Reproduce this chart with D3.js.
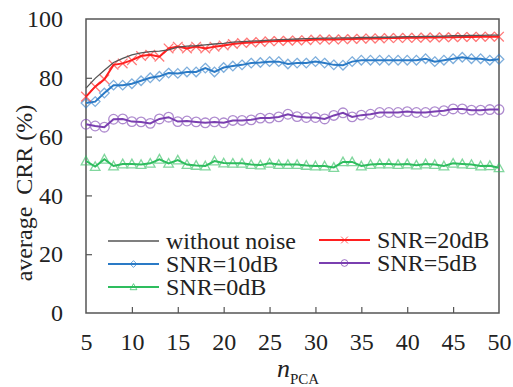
<!DOCTYPE html>
<html lang="en">
<head>
<meta charset="UTF-8">
<title>average CRR vs nPCA</title>
<script src="https://cdn.jsdelivr.net/npm/d3@7"></script>
<style>
  body { margin: 0; background: #fff; }
  svg text { fill: #222; }
  .frame { fill: none; stroke: #555; stroke-width: 1.5px; }
  .tick line { stroke: #555; stroke-width: 1.2px; }
</style>
</head>
<body>
<script>
// n_PCA values 5..50
const nPca = [5,6,7,8,9,10,11,12,13,14,15,16,17,18,19,20,21,22,23,24,25,26,27,28,29,30,
  31,32,33,34,35,36,37,38,39,40,41,42,43,44,45,46,47,48,49,50];

const noNoise = [76.5,79.8,82.6,85.2,86.6,87.8,88.5,88.9,89.1,89.5,90.4,90.8,90.9,91.2,91.5,91.7,
  92.1,92.3,92.5,92.6,92.8,93.0,93.1,93.2,93.3,93.4,93.5,93.5,93.6,93.6,93.7,93.7,93.8,93.8,93.9,
  94.0,94.0,94.1,94.1,94.2,94.3,94.3,94.4,94.4,94.5,94.5];
const snr20 = [73.6,77.0,79.5,84.4,84.9,86.0,87.4,87.8,87.2,90.0,90.6,90.0,90.6,90.0,90.6,91.0,
  91.5,91.8,92.0,92.2,92.4,92.5,92.6,92.7,92.8,93.0,93.0,93.0,93.1,93.2,93.3,93.4,93.4,93.5,93.5,
  93.6,93.6,93.7,93.7,93.8,93.8,93.9,93.9,94.0,94.0,94.0];
const snr10 = [71.4,71.9,74.8,77.5,77.5,78.0,79.0,80.0,80.5,81.6,81.5,82.0,82.0,83.3,82.0,83.5,
  84.0,84.4,85.0,85.2,85.5,85.5,84.7,85.0,85.0,85.5,85.0,84.4,84.3,85.5,86.0,86.0,86.0,86.0,86.0,
  86.0,86.0,86.5,85.5,86.0,86.5,87.0,86.5,86.5,86.0,86.3];
const snr5 = [64.2,63.6,63.2,65.9,66.0,65.1,65.0,64.5,66.0,66.6,65.1,65.3,65.0,64.7,65.0,64.7,
  65.5,65.5,65.7,66.3,66.3,66.7,67.6,66.8,66.5,66.5,66.0,67.2,68.1,66.7,67.3,67.6,68.2,68.2,68.2,
  68.5,68.2,68.2,68.5,68.8,69.4,69.4,69.0,69.0,69.2,69.2];
const snr0 = [51.7,49.8,52.3,50.0,50.7,50.7,50.5,50.9,52.3,50.9,52.0,50.5,50.2,50.0,51.7,51.0,
  50.9,50.9,50.5,50.3,50.9,50.5,50.5,50.5,50.2,50.0,50.0,49.5,51.4,51.4,50.0,50.5,50.7,50.7,50.5,
  50.7,50.3,50.7,50.5,50.0,50.9,50.7,50.5,50.0,50.1,49.4];

const xTicks = [5,10,15,20,25,30,35,40,45,50];
const yTicks = [0,20,40,60,80,100];

const series = [
  { name: "without noise", values: noNoise, color: "#555555", marker: null },
  { name: "SNR=20dB", values: snr20, color: "#ff2020", marker: "x" },
  { name: "SNR=10dB", values: snr10, color: "#2a7ac6", marker: "diamond" },
  { name: "SNR=5dB",  values: snr5,  color: "#7a3fb0", marker: "circle" },
  { name: "SNR=0dB",  values: snr0,  color: "#2ebd5e", marker: "triangle" }
];

const FONT = "Liberation Serif, DejaVu Serif, serif";
const FS = "24px";
const W = 513, H = 387;
const margin = { left: 86, right: 14, top: 19, bottom: 74 };

const svg = d3.select("body").append("svg")
  .attr("width", W).attr("height", H)
  .style("font-family", FONT);

const x = d3.scaleLinear().domain([5, 50]).range([margin.left, W - margin.right]);
const y = d3.scaleLinear().domain([0, 100]).range([H - margin.bottom, margin.top]);

// axes, ticks inside
svg.append("g")
  .attr("transform", "translate(0," + y(0) + ")")
  .call(d3.axisBottom(x).tickValues(xTicks).tickSize(-6).tickPadding(14))
  .attr("font-family", null)
  .call(g => g.select(".domain").remove())
  .call(g => g.selectAll("text").attr("font-size", FS).attr("dy", "0.95em"))
  .call(g => g.selectAll(".tick").filter(d => d === 5 || d === 50).select("line").remove());

svg.append("g")
  .attr("transform", "translate(" + x(5) + ",0)")
  .call(d3.axisLeft(y).tickValues(yTicks).tickSize(-6).tickPadding(23))
  .attr("font-family", null)
  .call(g => g.select(".domain").remove())
  .call(g => g.selectAll("text").attr("font-size", FS))
  .call(g => g.selectAll(".tick").filter(d => d === 0 || d === 100).select("line").remove());

svg.append("rect").attr("class", "frame")
  .attr("x", x(5)).attr("y", y(100))
  .attr("width", x(50) - x(5)).attr("height", y(0) - y(100));

// lines
const line = d3.line().x((d, i) => x(nPca[i])).y(d => y(d));

function drawMarker(sel, type, color) {
  const s = 4.8;
  if (type === "circle") {
    sel.append("circle").attr("r", s).attr("fill", "none");
  } else if (type === "diamond") {
    sel.append("path").attr("d", `M0,${-s}L${s},0L0,${s}L${-s},0Z`).attr("fill", "none");
  } else if (type === "triangle") {
    sel.append("path").attr("d", `M0,${-s}L${s},${s * 0.8}L${-s},${s * 0.8}Z`).attr("fill", "none");
  } else if (type === "x") {
    sel.append("path").attr("d", `M${-s},${-s}L${s},${s}M${-s},${s}L${s},${-s}`);
  }
  sel.selectAll("*").attr("stroke", color).attr("stroke-width", 1.3);
}

const plotOrder = [series[4], series[3], series[2], series[1], series[0]];
plotOrder.forEach(s => {
  svg.append("path")
    .attr("d", line(s.values))
    .attr("fill", "none")
    .attr("stroke", s.color)
    .attr("stroke-width", s.marker ? 2 : 1.3);
  if (s.marker) {
    svg.append("g").attr("opacity", 0.6)
      .selectAll("g").data(s.values).join("g")
      .attr("transform", (d, i) => "translate(" + x(nPca[i]) + "," + y(d) + ")")
      .each(function () { drawMarker(d3.select(this), s.marker, s.color); });
  }
});

// legend
const legendPos = [
  { s: series[0], x: 108, y: 241 },
  { s: series[1], x: 319, y: 240 },
  { s: series[2], x: 108, y: 264 },
  { s: series[3], x: 319, y: 263 },
  { s: series[4], x: 108, y: 287 }
];
legendPos.forEach(p => {
  const g = svg.append("g").attr("transform", "translate(" + p.x + "," + p.y + ")");
  g.append("line").attr("x1", 0).attr("x2", 51)
    .attr("stroke", p.s.color).attr("stroke-width", p.s.marker ? 2 : 1.3);
  if (p.s.marker) {
    const m = g.append("g").attr("transform", "translate(25.5,0) scale(0.7)").attr("opacity", 0.8);
    drawMarker(m, p.s.marker, p.s.color);
  }
  g.append("text").attr("x", 58).attr("dy", "0.33em")
    .attr("font-size", FS).text(p.s.name);
});

// axis titles
svg.append("text")
  .attr("transform", "translate(32,193) rotate(-90)")
  .attr("text-anchor", "middle").attr("font-size", FS)
  .attr("xml:space", "preserve")
  .text("average  CRR (%)");

const xt = svg.append("text").attr("x", 277).attr("y", 377);
xt.append("tspan").attr("font-size", "26px").attr("font-style", "italic").text("n");
xt.append("tspan").attr("font-size", "15px").attr("dy", 7).text("PCA");
</script>
</body>
</html>
